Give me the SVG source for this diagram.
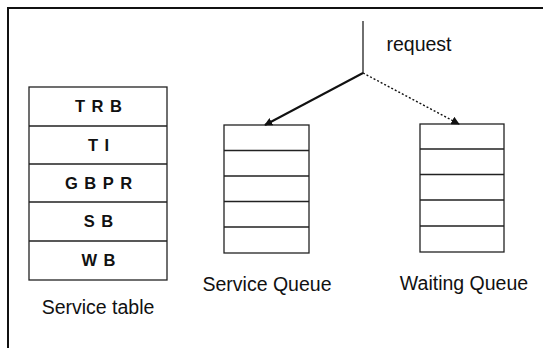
<svg xmlns="http://www.w3.org/2000/svg" width="543" height="348" viewBox="0 0 543 348">
<defs>
<style>
.box{fill:#fff;stroke:#222;stroke-width:1.3}
.div{stroke:#222;stroke-width:1.3;fill:none}
.cell{font-family:"Liberation Sans",Arial,sans-serif;font-size:16.5px;font-weight:bold;fill:#111;text-anchor:middle;letter-spacing:1px}
.lbl{font-family:"Liberation Sans",Arial,sans-serif;font-size:19.5px;fill:#111;text-anchor:middle}
.frame{stroke:#111;stroke-width:2;fill:none}
</style>
<marker id="ah" viewBox="0 0 10 10" refX="9" refY="5" markerWidth="4" markerHeight="4" orient="auto" markerUnits="strokeWidth">
<path d="M0,0 L10,5 L0,10 z" fill="#111"/>
</marker>
<marker id="ah2" viewBox="0 0 10 10" refX="9" refY="5" markerWidth="6" markerHeight="6" orient="auto" markerUnits="strokeWidth">
<path d="M0,0 L10,5 L0,10 z" fill="#111"/>
</marker>
</defs>
<rect width="543" height="348" fill="#fff"/>
<path class="frame" d="M8,348 L8,8 L543,8"/>
<g id="service-table">
<rect class="box" x="29" y="87" width="138" height="193"/>
<path class="div" d="M29,126 H167 M29,164 H167 M29,202 H167 M29,241 H167"/>
<text class="cell" x="99" y="112">T R B</text>
<text class="cell" x="99" y="151">T I</text>
<text class="cell" x="99" y="189">G B P R</text>
<text class="cell" x="99" y="227">S B</text>
<text class="cell" x="99" y="266">W B</text>
<text class="lbl" x="98" y="314">Service table</text>
</g>
<g id="service-queue">
<rect class="box" x="224" y="125" width="85" height="128"/>
<path class="div" d="M224,150.5 H309 M224,176 H309 M224,201.5 H309 M224,227 H309"/>
<text class="lbl" x="267" y="291">Service Queue</text>
</g>
<g id="waiting-queue">
<rect class="box" x="420" y="124" width="84" height="128"/>
<path class="div" d="M420,149 H504 M420,174.5 H504 M420,200 H504 M420,226 H504"/>
<text class="lbl" x="464" y="290">Waiting Queue</text>
</g>
<g id="request">
<text class="lbl" x="419" y="51">request</text>
</g>
<g id="connectors">
<line x1="363" y1="21" x2="363" y2="73" stroke="#222" stroke-width="1.3"/>
<line x1="363" y1="73" x2="265" y2="125" stroke="#111" stroke-width="2" marker-end="url(#ah)"/>
<line x1="363" y1="73" x2="459" y2="124" stroke="#111" stroke-width="1.4" stroke-dasharray="2,2" marker-end="url(#ah2)"/>
</g>
</svg>
